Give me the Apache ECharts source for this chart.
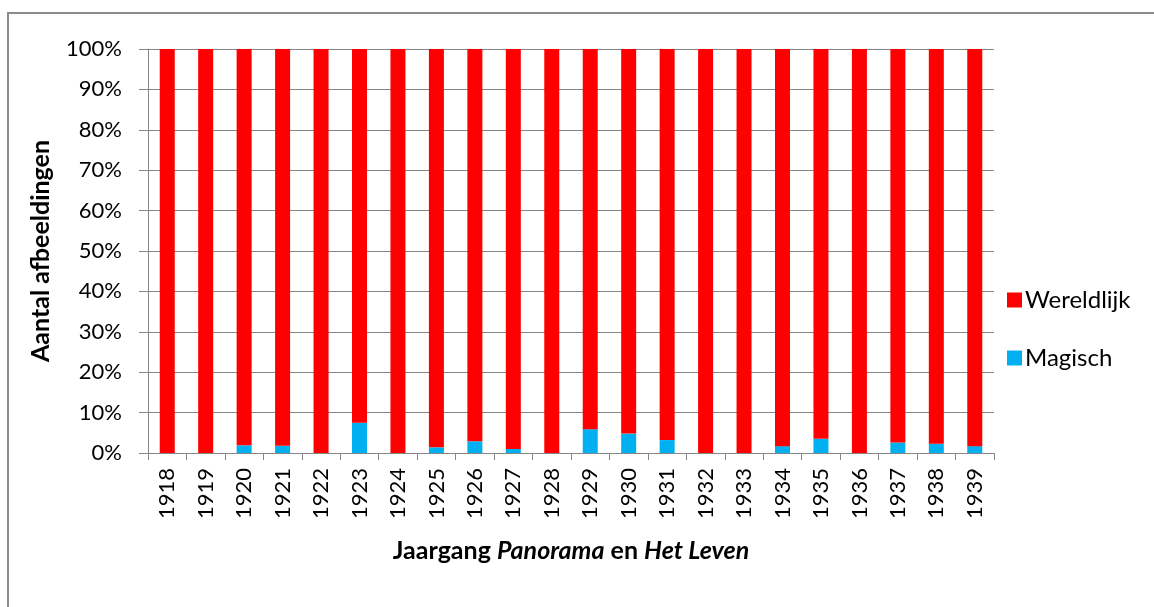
<!DOCTYPE html>
<html>
<head>
<meta charset="utf-8">
<script src="https://cdn.jsdelivr.net/npm/echarts@6/dist/echarts.min.js"></script>
<style>
  html, body { margin: 0; padding: 0; background: #fff; }
  #chart { width: 1154px; height: 607px; }
</style>
</head>
<body>
<div id="chart"></div>
<script>
// jaargangen
const years = ['1918','1919','1920','1921','1922','1923','1924','1925','1926','1927','1928',
  '1929','1930','1931','1932','1933','1934','1935','1936','1937','1938','1939'];
const magisch = [0,0,1.9,1.8,0,7.5,0,1.4,2.9,1.0,0,5.9,4.8,3.2,0,0,1.7,3.5,0,2.6,2.3,1.7];
const wereldlijk = [100,100,98.1,98.2,100,92.5,100,98.6,97.1,99.0,100,94.1,95.2,96.8,100,100,98.3,96.5,100,97.4,97.7,98.3];
const yTicks = { min: 0, max: 100, step: 10 };

const grey = '#868686';
const font = 'Lato, "Open Sans", sans-serif';

var myChart = echarts.init(document.getElementById('chart'));
var option = {
  animation: false,
  textStyle: { fontFamily: font, color: '#000' },
  grid: { left: 148, right: 160, top: 49, bottom: 154 },
  legend: {
    orient: 'vertical',
    left: 1002,
    top: 283,
    data: ['Wereldlijk', 'Magisch'],
    icon: 'rect',
    itemWidth: 15,
    itemHeight: 15,
    itemGap: 34,
    textStyle: { fontFamily: font, fontSize: 24, color: '#000', lineHeight: 15, padding: [0, 0, 0, -2] }
  },
  xAxis: {
    type: 'category',
    data: years,
    axisLine: { lineStyle: { color: grey, width: 1 } },
    axisTick: { show: true, length: 7, interval: 0, lineStyle: { color: grey } },
    axisLabel: { rotate: 90, fontSize: 22, color: '#000', margin: 15, interval: 0, fontFamily: font }
  },
  yAxis: {
    type: 'value',
    min: yTicks.min,
    max: yTicks.max,
    interval: yTicks.step,
    axisLine: { show: true, lineStyle: { color: grey, width: 1 } },
    axisTick: { show: true, length: 9, lineStyle: { color: grey } },
    splitLine: { lineStyle: { color: grey, width: 1 } },
    axisLabel: { formatter: '{value}%', fontSize: 22, color: '#000', margin: 26, fontFamily: font }
  },
  graphic: [
    {
      type: 'rect',
      silent: true,
      shape: { x: 8, y: 13, width: 1300, height: 800 },
      style: { fill: 'none', stroke: '#8c8c8c', lineWidth: 2 }
    },
    {
      type: 'text',
      x: 41, y: 251,
      rotation: Math.PI / 2,
      style: {
        text: 'Aantal afbeeldingen',
        font: 'bold 25px ' + font,
        fill: '#000',
        align: 'center',
        verticalAlign: 'middle'
      }
    },
    {
      type: 'text',
      x: 571, y: 551,
      style: {
        text: '{b|Jaargang }{i|Panorama}{b| en }{i|Het Leven}',
        align: 'center',
        verticalAlign: 'middle',
        rich: {
          b: { font: 'bold 25px ' + font, fill: '#000' },
          i: { font: 'italic bold 25px ' + font, fill: '#000' }
        }
      }
    }
  ],
  series: [
    {
      name: 'Magisch',
      type: 'bar',
      stack: 'total',
      barWidth: 15,
      itemStyle: { color: '#00B0F0' },
      data: magisch
    },
    {
      name: 'Wereldlijk',
      type: 'bar',
      stack: 'total',
      barWidth: 15,
      itemStyle: { color: '#FF0000' },
      data: wereldlijk
    }
  ]
};
option && myChart.setOption(option);
</script>
</body>
</html>
